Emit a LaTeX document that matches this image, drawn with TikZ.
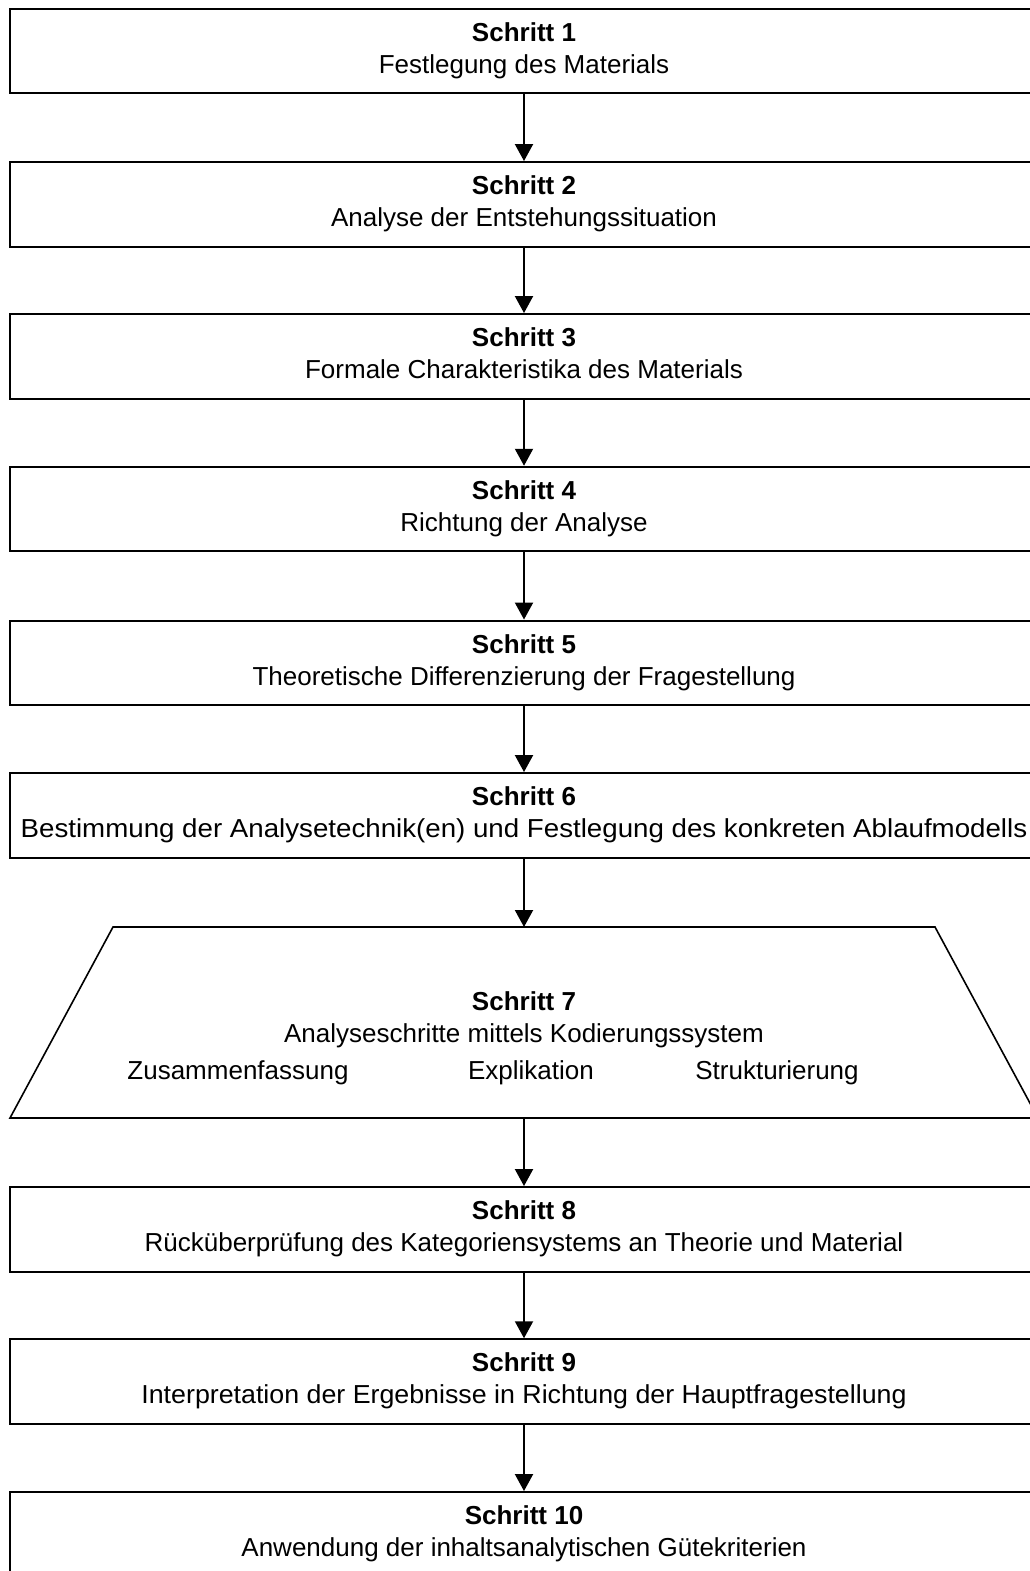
\documentclass[tikz,border=0pt]{standalone}
\usepackage{fontspec}
\setmainfont{Liberation Sans}
\usetikzlibrary{arrows.meta}
\begin{document}
\begin{tikzpicture}[x=1pt,y=-1pt,
  stepbox/.style={draw, line width=2pt, minimum width=1028pt, minimum height=84.5pt,
    inner sep=0pt, align=center, font=\fontsize{26}{32}\selectfont},
  lbl/.style={anchor=base, inner sep=0pt, font=\fontsize{26}{32}\selectfont},
  flow/.style={-{Triangle[width=18pt,length=17pt]}, line width=2pt}]
\useasboundingbox (0,0) rectangle (1029,1571);
\fill[white] (0,0) rectangle (1029,1571);
\node[stepbox] (s1) at (524,51) {\strut\textbf{Schritt 1}\\\strut Festlegung des Materials};
\node[stepbox] (s2) at (524,204.3) {\strut\textbf{Schritt 2}\\\strut Analyse der Entstehungssituation};
\node[stepbox] (s3) at (524,356.3) {\strut\textbf{Schritt 3}\\\strut Formale Charakteristika des Materials};
\node[stepbox] (s4) at (524,509) {\strut\textbf{Schritt 4}\\\strut Richtung der Analyse};
\node[stepbox] (s5) at (524,662.8) {\strut\textbf{Schritt 5}\\\strut Theoretische Differenzierung der Fragestellung};
\node[stepbox] (s6) at (524,815.3) {\strut\textbf{Schritt 6}\\\strut \scalebox{1.065}[1]{Bestimmung der Analysetechnik(en) und Festlegung des konkreten Ablaufmodells}};
% trapezoid step 7
\coordinate (t7top) at (524,927);
\coordinate (t7bot) at (524,1118);
\draw[line width=1.6pt, line join=miter] (113,927) -- (935,927) -- (1038,1118) -- (10,1118) -- cycle;
\node[lbl] (s7a) at (524,1010) {\textbf{Schritt 7}};
\node[lbl] (s7b) at (524,1042) {Analyseschritte mittels Kodierungssystem};
\node[lbl] (s7c) at (238,1079) {Zusammenfassung};
\node[lbl] (s7d) at (531,1079) {Explikation};
\node[lbl] (s7e) at (777,1079) {Strukturierung};
\node[stepbox] (s8) at (524,1229.3) {\strut\textbf{Schritt 8}\\\strut Rücküberprüfung des Kategoriensystems an Theorie und Material};
\node[stepbox] (s9) at (524,1381.5) {\strut\textbf{Schritt 9}\\\strut \scalebox{1.03}[1]{Interpretation der Ergebnisse in Richtung der Hauptfragestellung}};
\node[stepbox] (s10) at (524,1534.3) {\strut\textbf{Schritt 10}\\\strut Anwendung der inhaltsanalytischen Gütekriterien};
\draw[flow] (s1.south) -- (s2.north);
\draw[flow] (s2.south) -- (s3.north);
\draw[flow] (s3.south) -- (s4.north);
\draw[flow] (s4.south) -- (s5.north);
\draw[flow] (s5.south) -- (s6.north);
\draw[flow] (s6.south) -- (t7top);
\draw[flow] (t7bot) -- (s8.north);
\draw[flow] (s8.south) -- (s9.north);
\draw[flow] (s9.south) -- (s10.north);
\end{tikzpicture}
\end{document}
